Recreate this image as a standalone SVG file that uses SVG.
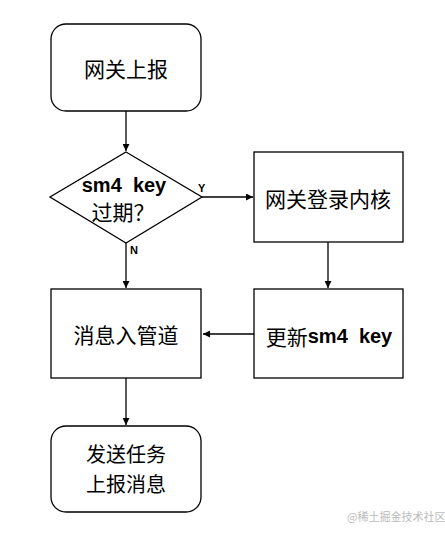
<svg xmlns="http://www.w3.org/2000/svg" width="445" height="537" viewBox="0 0 445 537">
<style>
.shape{fill:#fff;stroke:#000;stroke-width:1.3}
.cn{font-family:"Noto Sans CJK SC","Liberation Sans",sans-serif;font-size:21px;fill:#000;text-anchor:middle;dominant-baseline:central;white-space:pre}
.en{font-family:"Liberation Sans","Noto Sans CJK SC",sans-serif;font-weight:bold;font-size:20px}
.lbl{font-family:"Liberation Sans",sans-serif;font-size:11px;font-weight:bold;fill:#000}
.edge{stroke:#000;stroke-width:1.3;fill:none;marker-end:url(#arr)}
.wm{font-family:"Noto Sans CJK SC",sans-serif;font-size:11px;fill:#bbb}
</style>
<defs>
<marker id="arr" viewBox="0 0 10 10" refX="10" refY="5" markerWidth="7" markerHeight="7" markerUnits="userSpaceOnUse" orient="auto">
<path d="M0,0 L10,5 L0,10 z" fill="#000"/>
</marker>
</defs>
<rect width="445" height="537" fill="#fff"/>
<g id="connectors">
<line class="edge" x1="126" y1="111" x2="126" y2="151"/>
<line class="edge" x1="202" y1="197" x2="253" y2="197"/>
<line class="edge" x1="126" y1="243" x2="126" y2="288"/>
<line class="edge" x1="328" y1="242" x2="328" y2="288"/>
<line class="edge" x1="254" y1="334" x2="203" y2="334"/>
<line class="edge" x1="126" y1="378" x2="126" y2="425"/>
<text class="lbl" x="198" y="192">Y</text>
<text class="lbl" x="130" y="254">N</text>
</g>
<g id="start">
<rect class="shape" x="51" y="24" width="150" height="87" rx="15"/>
<text class="cn" x="126" y="68">网关上报</text>
</g>
<g id="decision">
<polygon class="shape" points="126,152 202,197 126,243 50,197"/>
<text class="cn" x="124" y="185" xml:space="preserve"><tspan class="en">sm4  key</tspan></text>
<text class="cn" x="123" y="211">过期？</text>
</g>
<g id="login">
<rect class="shape" x="254" y="152" width="149" height="90"/>
<text class="cn" x="328" y="198">网关登录内核</text>
</g>
<g id="update">
<rect class="shape" x="254" y="289" width="149" height="89"/>
<text class="cn" x="329" y="336" xml:space="preserve">更新<tspan class="en">sm4  key</tspan></text>
</g>
<g id="queue">
<rect class="shape" x="51" y="289" width="150" height="89"/>
<text class="cn" x="126" y="334">消息入管道</text>
</g>
<g id="end">
<rect class="shape" x="51" y="426" width="150" height="86" rx="15"/>
<text class="cn" x="126" y="453" style="font-size:20px">发送任务</text>
<text class="cn" x="126" y="483" style="font-size:20px">上报消息</text>
</g>
<text class="wm" x="347" y="521">@稀土掘金技术社区</text>
</svg>
